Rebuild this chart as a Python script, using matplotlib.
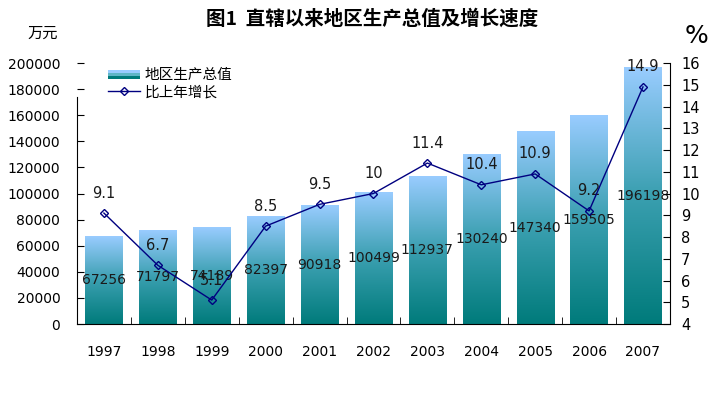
import matplotlib
matplotlib.use("Agg")
import matplotlib.pyplot as plt
import numpy as np
from matplotlib.colors import LinearSegmentedColormap
from matplotlib.patches import Rectangle
from matplotlib.lines import Line2D
from matplotlib.legend_handler import HandlerBase

plt.rcParams['font.family'] = ['DejaVu Sans', 'Noto Sans CJK SC']

years = ['1997', '1998', '1999', '2000', '2001', '2002',
         '2003', '2004', '2005', '2006', '2007']
gdp = [67256, 71797, 74189, 82397, 90918, 100499,
       112937, 130240, 147340, 159505, 196198]
growth = [9.1, 6.7, 5.1, 8.5, 9.5, 10, 11.4, 10.4, 10.9, 9.2, 14.9]

BAR_TOP = '#99ccff'
BAR_BOT = '#007b7b'
LINE_C = '#000080'
grad = LinearSegmentedColormap.from_list('g', [BAR_BOT, '#3a9fb0', BAR_TOP])


class GradHandler(HandlerBase):
    'Legend key: light blue stripe over a teal stripe.'
    def create_artists(self, legend, orig, xd, yd, w, h, fs, trans):
        top = Rectangle((xd, yd + h * 0.5), w, h * 0.35, facecolor=BAR_TOP,
                        edgecolor='none', transform=trans)
        mid = Rectangle((xd, yd + h * 0.25), w, h * 0.3, facecolor='#5fb6c6',
                        edgecolor='none', transform=trans)
        bot = Rectangle((xd, yd), w, h * 0.3, facecolor=BAR_BOT,
                        edgecolor='none', transform=trans)
        return [top, mid, bot]


fig = plt.figure(figsize=(7.22, 3.96), dpi=100)
ax = fig.add_axes([0.1066, 0.1818, 0.8213, 0.6591])
x = np.arange(len(years))
width = 0.69

bars = ax.bar(x, gdp, width=width, color='none', edgecolor='none', zorder=2)
g = np.linspace(0, 1, 256).reshape(-1, 1)
for b in bars:
    x0, y0 = b.get_x(), b.get_y()
    ax.imshow(g, cmap=grad, origin='lower', aspect='auto', zorder=1,
              extent=(x0, x0 + b.get_width(), y0, y0 + b.get_height()))

for xi, v in zip(x, gdp):
    ax.text(xi, v / 2, str(v), ha='center', va='center', fontsize=10,
            color='#1a1a1a', zorder=5)

ax.set_xlim(-0.5, len(years) - 0.5)
ax.set_ylim(0, 200000)
ax.set_yticks(range(0, 200001, 20000))
ax.set_xticks(x)
ax.set_xticklabels(years)
ax.set_xticks(x[:-1] + 0.5, minor=True)
ax.tick_params(axis='x', which='major', length=0, pad=15, labelsize=10)
ax.tick_params(axis='x', which='minor', direction='in', length=5)
ax.tick_params(axis='y', direction='in', length=5, pad=12, labelsize=10)
ax.spines['top'].set_visible(False)
ax.spines['right'].set_visible(False)
ax.spines['left'].set_bounds(0, 174000)
for t in ax.yaxis.get_major_ticks():
    if t.get_loc() > 174000:
        t.tick1line.set_visible(False)

ax2 = ax.twinx()
ax2.plot(x, growth, color=LINE_C, lw=1, marker='D', ms=4.5,
         mfc='none', mec=LINE_C, mew=1, zorder=4)
for xi, v in zip(x, growth):
    ax2.annotate('{:g}'.format(v), (xi, v), xytext=(0, 9),
                 textcoords='offset points', ha='center', va='bottom',
                 fontsize=10.5, color='#1a1a1a')
ax2.set_ylim(4, 16)
ax2.set_yticks(range(4, 17))
ax2.tick_params(axis='y', direction='in', length=5, pad=8, labelsize=10.5)
for s in ['top', 'left', 'bottom']:
    ax2.spines[s].set_visible(False)

handles = [Rectangle((0, 0), 1, 1),
           Line2D([], [], color=LINE_C, lw=1, marker='D', ms=4.5,
                  mfc='none', mec=LINE_C)]
ax.legend(handles, ['地区生产总值', '比上年增长'], loc='upper left',
          bbox_to_anchor=(0.03, 1.035), frameon=False, fontsize=10.5,
          handlelength=2.2, handletextpad=0.3, labelspacing=0.15,
          handler_map={Rectangle: GradHandler()})

fig.text(0.515, 0.952, '图1  直辖以来地区生产总值及增长速度', ha='center',
         va='center', fontsize=14, fontweight='bold',
         family=['Noto Sans CJK SC'])
fig.text(0.059, 0.915, '万元', ha='center', va='center', fontsize=11,
         family=['Noto Sans CJK SC'])
fig.text(0.965, 0.91, '%', ha='center', va='center', fontsize=18)

fig.savefig('out.png', dpi=100)
